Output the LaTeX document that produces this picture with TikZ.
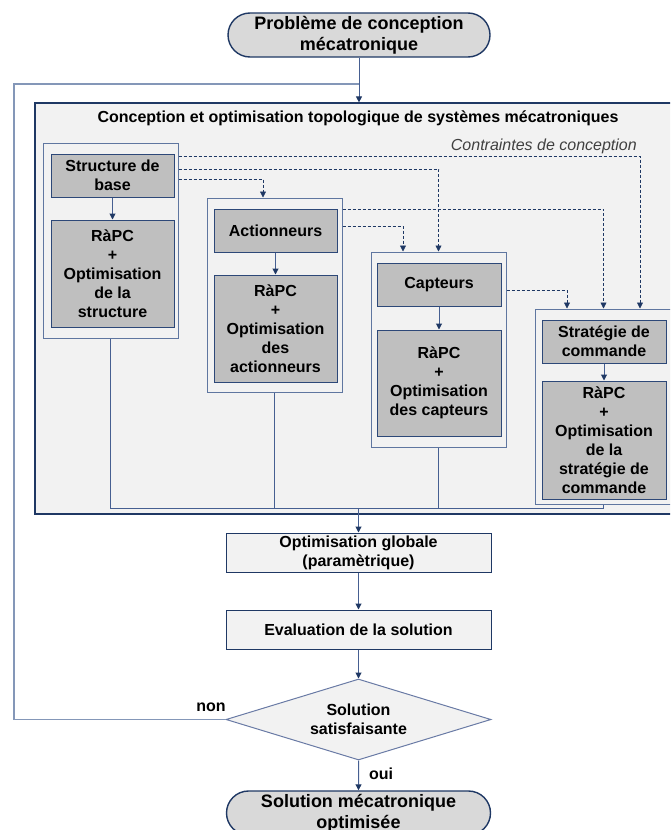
\documentclass[tikz,border=0pt]{standalone}
\usepackage{fontspec}
\setmainfont{Liberation Sans}
\usetikzlibrary{arrows.meta,shapes.geometric,shapes.misc}
\definecolor{navy}{RGB}{31,56,100}
\definecolor{lightbg}{RGB}{242,242,242}
\definecolor{midgray}{RGB}{191,191,191}
\definecolor{termgray}{RGB}{217,217,217}
\definecolor{grpline}{RGB}{95,118,160}
\definecolor{boxline}{RGB}{45,72,120}
\definecolor{linkc}{RGB}{70,95,145}
\definecolor{decline}{RGB}{105,122,165}
\definecolor{fbc}{RGB}{132,151,184}
\definecolor{ctrtext}{RGB}{64,64,64}
\begin{document}
\begin{tikzpicture}[x=1pt,y=-1pt,
 base/.style={font=\fontsize{16}{19}\selectfont\bfseries, align=center, inner sep=0pt, text=black},
 term/.style={base, rounded rectangle, draw=navy, line width=1.4pt, fill=termgray, font=\fontsize{18}{21}\selectfont\bfseries, minimum width=262pt, minimum height=44pt},
 contbox/.style={draw=navy, line width=1.2pt, fill=lightbg, inner sep=0pt},
 grp/.style={draw=grpline, line width=1pt, fill=lightbg, inner sep=0pt},
 gbox/.style={base, draw=boxline, line width=1pt, fill=midgray},
 lbox/.style={base, draw=navy, line width=1pt, fill=lightbg, minimum width=265pt, minimum height=39pt},
 dec/.style={base, diamond, draw=decline, line width=1pt, fill=lightbg, minimum width=265pt, minimum height=81pt, aspect=3.27},
 link/.style={draw=linkc, line width=1pt, -{Triangle[width=6pt,length=6pt,color=navy]}},
 plainlink/.style={draw=linkc, line width=1pt},
 dashlink/.style={draw=navy, line width=0.8pt, dash pattern=on 3pt off 2pt, -{Triangle[width=6pt,length=6pt,color=navy]}},
 fback/.style={draw=fbc, line width=1.6pt}
]
\useasboundingbox (0,0) rectangle (670,830);
\clip (0,0) rectangle (670,830);

% helper coordinates
\coordinate (h156) at (0,156);
\coordinate (h169) at (0,169);
\coordinate (h179) at (0,179);
\coordinate (h209) at (0,209);
\coordinate (h226) at (0,226);
\coordinate (h290) at (0,290);
\coordinate (v640) at (640,0);
\coordinate (v263) at (263,0);
\coordinate (v403) at (403,0);
\coordinate (v567) at (567,0);
\coordinate (fbk) at (14,84);
\coordinate (mg) at (358.5,508);

% top terminator
\node[term] (top) at (359,35) {Problème de conception\\mécatronique};

% container
\node[contbox, minimum width=641pt, minimum height=411pt] (cont) at (355.5,308.5) {};
\node[base] (ttl) at (358,118) {Conception et optimisation topologique de systèmes mécatroniques};
\node[base, font=\fontsize{16}{19}\selectfont\itshape, text=ctrtext, anchor=east] (ctr) at (637,146) {Contraintes de conception};

% groups
\node[grp, minimum width=135pt, minimum height=195pt] (g1) at (110.5,240.5) {};
\node[grp, minimum width=135pt, minimum height=194pt] (g2) at (274.5,295) {};
\node[grp, minimum width=135pt, minimum height=195pt] (g3) at (438.5,349.5) {};
\node[grp, minimum width=137pt, minimum height=195pt] (g4) at (603.5,406.5) {};

% inner boxes
\node[gbox, minimum width=123pt, minimum height=43pt] (sb) at (112.5,175.5) {Structure de\\base};
\node[gbox, minimum width=123pt, minimum height=107pt] (r1) at (112.5,273.5) {RàPC\\+\\Optimisation\\de la\\structure};
\node[gbox, minimum width=123pt, minimum height=43pt] (act) at (275.5,230.5) {Actionneurs};
\node[gbox, minimum width=123pt, minimum height=107pt] (r2) at (275.5,328.5) {RàPC\\+\\Optimisation\\des\\actionneurs};
\node[gbox, minimum width=124pt, minimum height=43pt] (cap) at (439,284.5) {Capteurs};
\node[gbox, minimum width=124pt, minimum height=106pt] (r3) at (439,383) {RàPC\\+\\Optimisation\\des capteurs};
\node[gbox, minimum width=124pt, minimum height=43pt] (strat) at (604,341.5) {Stratégie de\\commande};
\node[gbox, minimum width=124pt, minimum height=118pt] (r4) at (604,440) {RàPC\\+\\Optimisation\\de la\\stratégie de\\commande};

% lower flow
\node[lbox] (og) at (358.5,552.5) {Optimisation globale\\(paramètrique)};
\node[lbox] (ev) at (358.5,629.5) {Evaluation de la solution};
\node[dec] (dia) at (358.5,719.5) {Solution\\satisfaisante};
\node[term, minimum width=264pt] (bot) at (358.5,813) {Solution mécatronique\\optimisée};
\node[base] (non) at (211,707) {non};
\node[base] (oui) at (381,774) {oui};

% connectors
\draw[fback] (dia.west) -| (fbk) -- (top.south |- fbk);
\draw[link] (top.south) -- (top.south |- cont.north);

\draw[link] (sb) -- (r1);
\draw[link] (act) -- (r2);
\draw[link] (cap) -- (r3);
\draw[link] (strat.south) -- (strat.south |- r4.north);

\draw[dashlink] (g1.east |- h156) -| (v640 |- g4.north);
\draw[dashlink] (g1.east |- h169) -| (g3.north);
\draw[dashlink] (g1.east |- h179) -| (v263 |- g2.north);
\draw[dashlink] (g2.east |- h209) -| (g4.north);
\draw[dashlink] (g2.east |- h226) -| (v403 |- g3.north);
\draw[dashlink] (g3.east |- h290) -| (v567 |- g4.north);

\draw[plainlink] (g1.south) |- (mg);
\draw[plainlink] (g2.south) -- (g2.south |- mg);
\draw[plainlink] (g3.south) |- (mg);
\draw[plainlink] (g4.south) |- (mg);
\draw[link] (mg) -- (og.north);

\draw[link] (og) -- (ev);
\draw[link] (ev) -- (dia);
\draw[link] (dia) -- (bot);
\end{tikzpicture}
\end{document}
